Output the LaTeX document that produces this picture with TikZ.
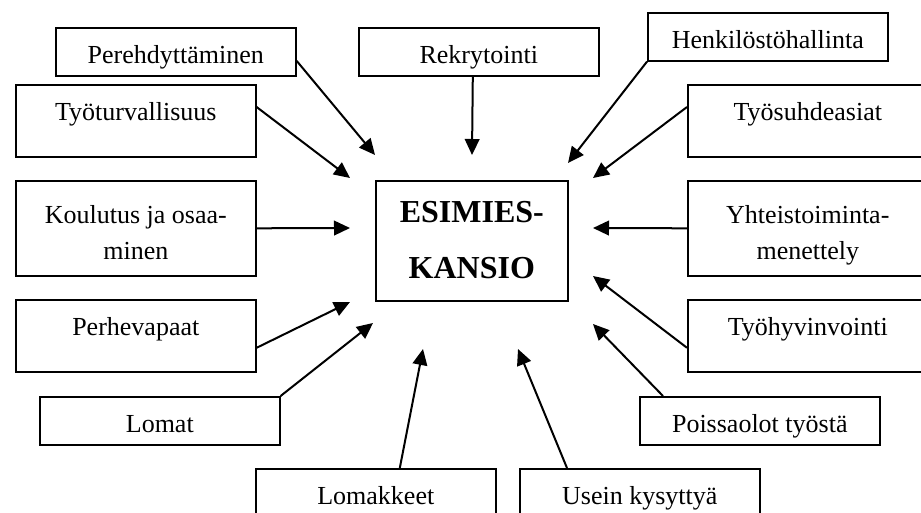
\documentclass[tikz,border=0pt]{standalone}
\usepackage{fontspec}
\setmainfont{Liberation Serif}
\usepackage{tikz}
\usetikzlibrary{positioning, calc, arrows.meta}
\tikzset{every picture/.append style={thick}}

% two lines in one box
\newcommand{\twolines}[2]{\begin{tabular}[t]{@{}c@{}}#1\\#2\end{tabular}}

\tikzset{
    box/.style={draw, line width=1.2pt, anchor=north west, inner xsep=0pt, inner ysep=0pt,
        minimum width=180pt, text height=27pt, text depth=9pt,
        font=\fontsize{19.5}{27}\selectfont},
    tallbox/.style={box, text depth=27pt},
    twobox/.style={box, text height=32.25pt, text depth=39pt},
    mainbox/.style={box, minimum width=144pt, text height=31.5pt, text depth=58.5pt,
        font=\bfseries\fontsize{24}{42}\selectfont},
    arr/.style={-{Triangle[length=12pt, width=11pt]}, line width=1.5pt}
}

\begin{document}
\begin{tikzpicture}[x=0.75pt, y=-0.75pt]
    \useasboundingbox (0,0) rectangle (921,513);
    \clip (0,0) rectangle (921,513);

    % Center
    \node[mainbox] (kansio) at (375,180) {\twolines{ESIMIES-}{KANSIO}};

    % Top row
    \node[box] (pere) at (55,27) {Perehdyttäminen};
    \node[box] (rekry) at (358,27) {Rekrytointi};
    \node[box] (henk) at (647,12) {Henkilöstöhallinta};

    % Left side
    \node[tallbox] (tyotur) at (15,84) {Työturvallisuus};
    \node[twobox] (koul) at (15,180) {\twolines{Koulutus ja osaa-}{minen}};
    \node[tallbox] (perhe) at (15,299) {Perhevapaat};
    \node[box] (lomat) at (39,396) {Lomat};

    % Right side
    \node[tallbox] (tyosuh) at (687,84) {Työsuhdeasiat};
    \node[twobox] (yht) at (687,180) {\twolines{Yhteistoiminta-}{menettely}};
    \node[tallbox] (tyohyv) at (687,299) {Työhyvinvointi};
    \node[box] (poissa) at (639,396) {Poissaolot työstä};

    % Bottom row
    \node[tallbox] (lomak) at (255,468) {Lomakkeet};
    \node[tallbox] (usein) at (519,468) {Usein kysyttyä};

    % Arrow tips round the center box
    \coordinate (tPere) at (375,155);
    \coordinate (tRekry) at (472,155);
    \coordinate (tHenk) at (568,163);
    \coordinate (tTyotur) at (350,178);
    \coordinate (tTyosuh) at (593,178);
    \coordinate (tKoul) at (350,228);
    \coordinate (tYht) at (593,228);
    \coordinate (tPerhe) at (350,302);
    \coordinate (tTyohyv) at (593,276);
    \coordinate (tLomat) at (373,323);
    \coordinate (tPoissa) at (593,324);
    \coordinate (tLomak) at (423,349);
    \coordinate (tUsein) at (518,349);

    % Arrows
    \draw[arr] ($(pere.east)+(0,9)$) -- (tPere);
    \draw[arr] ($(rekry.south)+(-6,0)$) -- (tRekry);
    \draw[arr] (henk.south west) -- (tHenk);
    \draw[arr] ($(tyotur.north east)+(0,23)$) -- (tTyotur);
    \draw[arr] ($(tyosuh.north west)+(0,23)$) -- (tTyosuh);
    \draw[arr] (koul.east) -- (tKoul);
    \draw[arr] (yht.west) -- (tYht);
    \draw[arr] ($(perhe.east)+(0,12)$) -- (tPerhe);
    \draw[arr] ($(tyohyv.west)+(0,12)$) -- (tTyohyv);
    \draw[arr] (lomat.north east) -- (tLomat);
    \draw[arr] ($(poissa.north west)+(24,0)$) -- (tPoissa);
    \draw[arr] ($(lomak.north)+(24,0)$) -- (tLomak);
    \draw[arr] ($(usein.north west)+(48,0)$) -- (tUsein);
\end{tikzpicture}
\end{document}
